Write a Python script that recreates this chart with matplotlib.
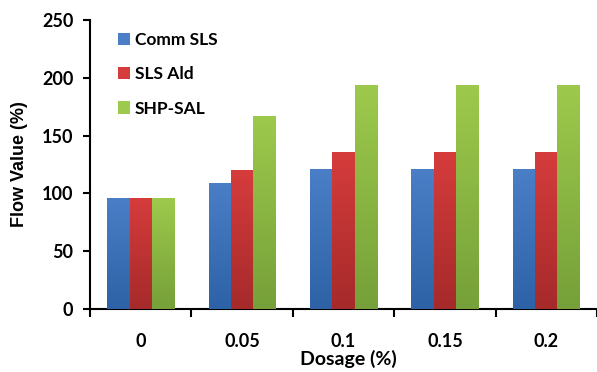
import matplotlib.pyplot as plt
import numpy as np
from matplotlib.colors import LinearSegmentedColormap
from matplotlib.patches import Patch

dosage = ["0", "0.05", "0.1", "0.15", "0.2"]
comm_sls = [96, 109, 121, 121, 121]
sls_ald = [96, 120, 136, 136, 136]
shp_sal = [96, 167, 194, 194, 194]

series = [
    ("Comm SLS", comm_sls, "#4a7fc7", "#2d62a6"),
    ("SLS Ald", sls_ald, "#d63c3c", "#a62a2a"),
    ("SHP-SAL", shp_sal, "#9dca4c", "#76a039"),
]

fig = plt.figure(figsize=(5.97, 3.72), dpi=100)
ax = fig.add_axes([0.1508, 0.1694, 0.8492, 0.7769])

x = np.arange(len(dosage))
width = 0.22
grad = np.linspace(0, 1, 256).reshape(-1, 1)

handles = []
for i, (name, vals, top, bottom) in enumerate(series):
    offs = (i - 1) * width
    bars = ax.bar(x + offs, vals, width, color=top, linewidth=0, zorder=2)
    cmap = LinearSegmentedColormap.from_list(name, [bottom, top])
    # vertical shading inside each bar
    for b in bars:
        x0, y0 = b.get_x(), b.get_y()
        im = ax.imshow(grad, cmap=cmap, aspect="auto", origin="lower",
                       extent=(x0, x0 + b.get_width(), y0, y0 + b.get_height()),
                       zorder=3)
        im.set_clip_path(b)
    handles.append(Patch(facecolor=top, label=name))

ax.set_xlim(-0.5, len(dosage) - 0.5)
ax.set_ylim(0, 250)
ax.set_yticks(range(0, 251, 50))

ax.set_xticks(x)
ax.set_xticklabels(dosage)
ax.set_xticks(np.arange(-0.5, len(dosage), 1), minor=True)
ax.tick_params(axis="x", which="major", length=0, pad=17)
ax.tick_params(axis="x", which="minor", length=6, width=1.5, direction="out")
ax.tick_params(axis="y", length=5, width=1.5, direction="out", pad=7)

for lab in ax.get_xticklabels() + ax.get_yticklabels():
    lab.set_fontfamily("Lato")
    lab.set_fontweight("bold")
    lab.set_fontsize(13)

for s in ["top", "right"]:
    ax.spines[s].set_visible(False)
for s in ["left", "bottom"]:
    ax.spines[s].set_linewidth(1.5)

ax.set_ylabel("Flow Value (%)", fontfamily="Liberation Sans", fontweight="bold", fontsize=13)
ax.yaxis.set_label_coords(-0.122, 0.5)
ax.set_xlabel("Dosage (%)", fontfamily="Lato", fontweight="bold", fontsize=14)
ax.xaxis.set_label_coords(0.509, -0.143)

ax.legend(handles=handles, loc="upper left", bbox_to_anchor=(0.025, 1.012),
          frameon=False, handlelength=0.7, handleheight=0.7, handletextpad=0.25,
          labelspacing=1.05, prop={"family": "Lato", "weight": "bold", "size": 12.5})

fig.savefig("out.png", dpi=100)
